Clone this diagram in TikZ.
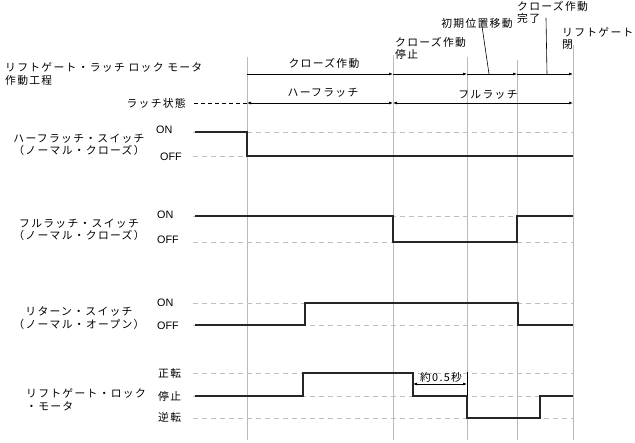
\documentclass[tikz,border=0pt]{standalone}
\usepackage{fontspec}
\setmainfont[LetterSpace=12]{Noto Sans CJK JP}
\newfontfamily\latfont{Liberation Sans}
\usetikzlibrary{arrows.meta}

\tikzset{
  timeline/.style={draw=black!27, line width=0.8pt},
  levelguide/.style={draw=black!25, dash pattern=on 5pt off 4pt, line width=0.7pt},
  signal/.style={draw=black!85, line width=1.3pt},
  phase/.style={-{Latex[length=4pt,width=3pt]}, line width=0.7pt},
  span/.style={{Latex[length=4pt,width=3pt]}-{Latex[length=4pt,width=3pt]}, line width=0.7pt},
  lbl/.style={font=\fontsize{10.8}{12.5}\selectfont, inner sep=0pt},
  lvl/.style={lbl, anchor=west},
}

\begin{document}
\begin{tikzpicture}[x=1pt, y=-1pt]
  \useasboundingbox (0,0) rectangle (635,443);

  % time marks
  \foreach \n/\x/\top in {a/247/57, b/393/55, c/467/57, d/517/60, e/573/45} {
    \coordinate (\n top) at (\x,\top);
    \coordinate (\n bot) at (\x,440);
    \coordinate (\n1) at (\x,74);
    \coordinate (\n2) at (\x,103);
    \draw[timeline] (\n top) -- (\n bot);
  }

  % process rows
  \node[lbl, anchor=west, align=left] (title) at (5,74)
    {リフトゲート・ラッチ ロック モータ\\作動工程};
  \draw[phase] (a1) -- (b1);
  \draw[phase] (b1) -- (c1);
  \draw[phase] (c1) -- (d1);
  \draw[phase] (d1) -- (e1);
  \node[lbl] (close) at (324,63) {クローズ作動};
  \node[lbl, anchor=north west, align=left] (stop) at (395,37) {クローズ作動\\停止};
  \node[lbl] (init) at (477,23) {初期位置移動};
  \node[lbl, anchor=north west, align=left] (done) at (517,1) {クローズ作動\\完了};
  \node[lbl, anchor=north west, align=left] (shut) at (562,27) {リフトゲート\\閉};
  \coordinate (init end) at (489,74);
  \coordinate (done start) at (546,18);
  \coordinate (done end) at (547,74);
  \draw[line width=0.6pt] ([xshift=5pt,yshift=2pt]init.south) -- (init end);
  \draw[line width=0.6pt] (done start) -- (done end);

  \node[lbl, anchor=east] (latch) at (186,103) {ラッチ状態};
  \coordinate (latch dash) at (194,103);
  \draw[dash pattern=on 4pt off 3pt, line width=0.6pt] (latch dash) -- (a2);
  \draw[span] (a2) -- (b2);
  \draw[span] (b2) -- (e2);
  \node[lbl] (half) at (323,93) {ハーフラッチ};
  \node[lbl] (full) at (488,95) {フルラッチ};

  % half latch switch
  \node[lbl, align=center] (hsw) at (79,145) {ハーフラッチ・スイッチ\\（ノーマル・クローズ）};
  \node[lvl] (hon) at (156,130) {\latfont ON};
  \node[lvl] (hoff) at (160,157) {\latfont OFF};
  \draw[levelguide] (193,132) -- (573,132);
  \draw[levelguide] (193,156) -- (573,156);
  \draw[signal] (195,132) -| (247,156) -- (573,156);

  % full latch switch
  \node[lbl, align=center] (fsw) at (79,230) {フルラッチ・スイッチ\\（ノーマル・クローズ）};
  \node[lvl] (fon) at (157,215) {\latfont ON};
  \node[lvl] (foff) at (157,240) {\latfont OFF};
  \draw[levelguide] (193,216) -- (573,216);
  \draw[levelguide] (193,242) -- (573,242);
  \draw[signal] (195,216) -| (393,242) -| (517,216) -- (573,216);

  % return switch
  \node[lbl, align=center] (rsw) at (79,318) {リターン・スイッチ\\（ノーマル・オープン）};
  \node[lvl] (ron) at (157,303) {\latfont ON};
  \node[lvl] (roff) at (157,326) {\latfont OFF};
  \draw[levelguide] (193,303) -- (573,303);
  \draw[levelguide] (193,325) -- (573,325);
  \draw[signal] (195,325) -| (305,303) -| (518,325) -- (573,325);

  % lock motor
  \node[lbl, anchor=west, align=left] (motor) at (26,400) {リフトゲート・ロック\\・モータ};
  \node[lvl] (fwd) at (158,373) {正転};
  \node[lvl] (halt) at (158,396) {停止};
  \node[lvl] (rev) at (158,417) {逆転};
  \draw[levelguide] (193,373) -- (573,373);
  \draw[levelguide] (193,396) -- (573,396);
  \draw[levelguide] (193,418) -- (573,418);
  \draw[signal] (195,396) -| (303,373) -| (413,396) -| (467,418) -| (540,396) -- (573,396);

  % delay
  \coordinate (dly a) at (413,384);
  \coordinate (dly b) at (467,384);
  \draw[line width=0.8pt] (467,372) -- (467,396);
  \draw[span] (dly a) -- (dly b);
  \node[lbl, inner sep=1pt] (dly) at (441,377) {約0.5秒};
\end{tikzpicture}
\end{document}
